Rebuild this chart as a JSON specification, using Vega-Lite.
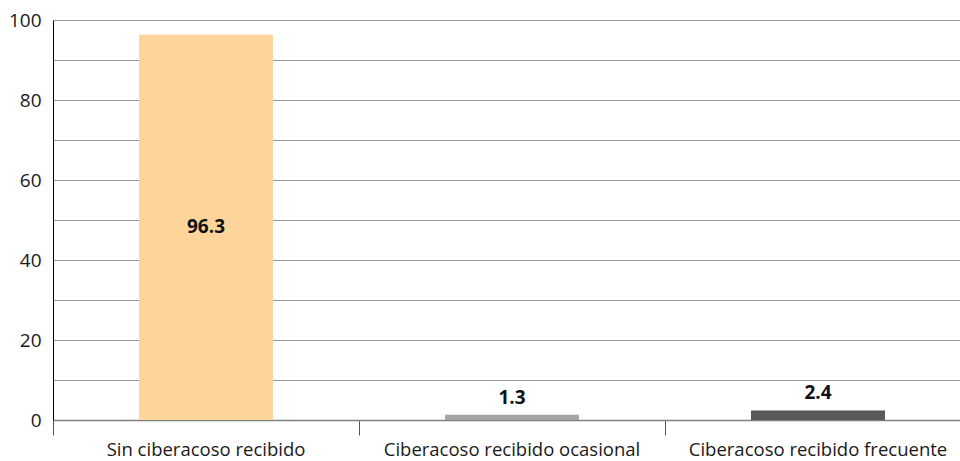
{
  "$schema": "https://vega.github.io/schema/vega-lite/v6.json",
  "autosize": "none",
  "width": 907,
  "height": 400,
  "padding": {"left": 53, "top": 20, "right": 0, "bottom": 41},
  "background": "white",
  "config": {
    "view": {"stroke": null},
    "font": "Open Sans",
    "axis": {"labelFont": "Open Sans", "labelColor": "#1a1a1a"}
  },
  "data": {
    "values": [
      {"categoria": "Sin ciberacoso recibido", "porcentaje": 96.3},
      {"categoria": "Ciberacoso recibido ocasional", "porcentaje": 1.3},
      {"categoria": "Ciberacoso recibido frecuente", "porcentaje": 2.4}
    ]
  },
  "encoding": {
    "x": {
      "field": "categoria",
      "type": "nominal",
      "sort": null,
      "scale": {"paddingInner": 0, "paddingOuter": 0, "range": [0, 918]},
      "axis": {
        "title": null,
        "labelAngle": 0,
        "labelFontSize": 18.5,
        "labelLimit": 0,
        "labelPadding": 5,
        "bandPosition": 0,
        "tickSize": 15,
        "tickColor": "#555555",
        "domainColor": "#808080",
        "domainWidth": 1.5,
        "grid": false
      }
    },
    "y": {
      "field": "porcentaje",
      "type": "quantitative",
      "scale": {"domain": [0, 100], "nice": false},
      "axis": {
        "title": null,
        "tickCount": 10,
        "labelExpr": "datum.value % 20 === 0 ? datum.label : ''",
        "labelFontSize": 19,
        "labelPadding": 12,
        "ticks": false,
        "domainColor": "#000000",
        "domainWidth": 1,
        "grid": true,
        "gridColor": "#9a9a9a",
        "gridWidth": 1.2
      }
    }
  },
  "layer": [
    {
      "mark": {"type": "bar", "width": {"band": 0.438}},
      "encoding": {
        "color": {
          "field": "categoria",
          "type": "nominal",
          "sort": null,
          "scale": {"range": ["#FDD49A", "#A5A5A5", "#595959"]},
          "legend": null
        }
      }
    },
    {
      "transform": [
        {"filter": "datum.porcentaje > 10"},
        {"calculate": "datum.porcentaje / 2", "as": "mitad"}
      ],
      "mark": {"type": "text", "fontWeight": "bold", "fontSize": 19, "color": "#111111", "baseline": "middle"},
      "encoding": {
        "y": {"field": "mitad", "type": "quantitative"},
        "text": {"field": "porcentaje", "type": "quantitative", "format": ".1f"}
      }
    },
    {
      "transform": [{"filter": "datum.porcentaje <= 10"}],
      "mark": {"type": "text", "fontWeight": "bold", "fontSize": 19, "color": "#111111", "baseline": "bottom", "dy": -7},
      "encoding": {
        "text": {"field": "porcentaje", "type": "quantitative", "format": ".1f"}
      }
    }
  ]
}
